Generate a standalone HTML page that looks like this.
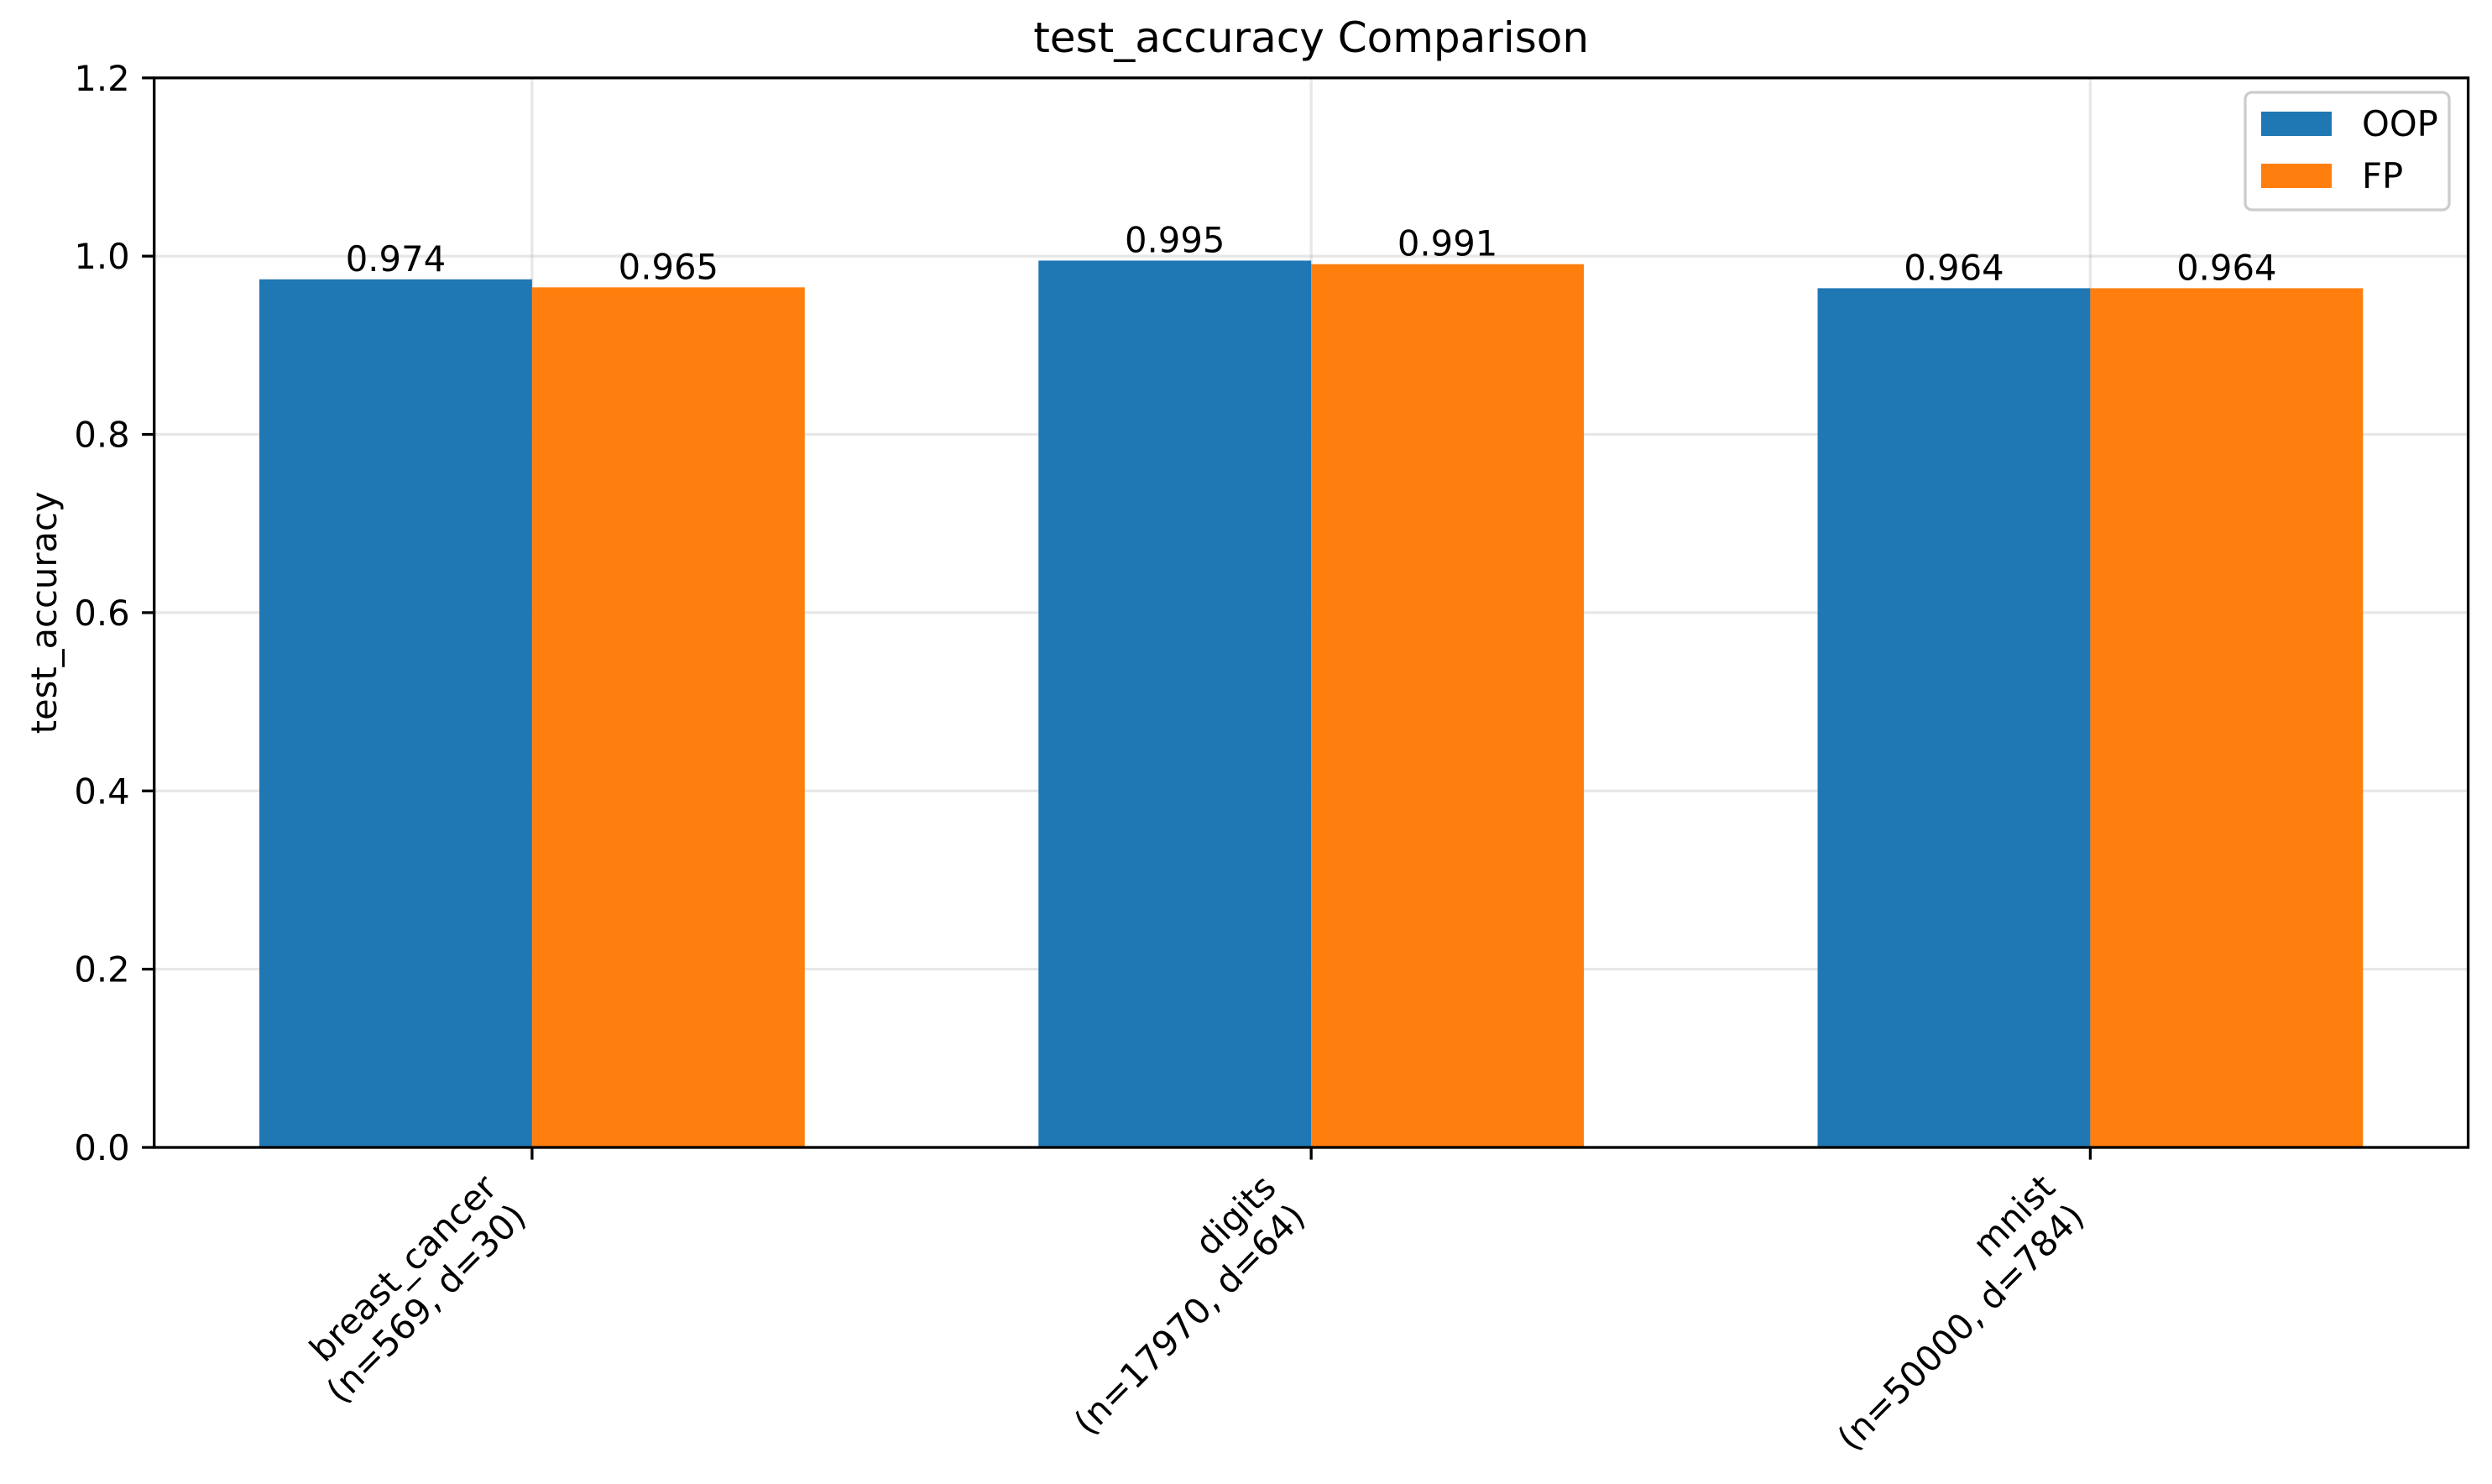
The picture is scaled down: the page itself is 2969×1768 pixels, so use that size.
<!DOCTYPE html>
<html><head><meta charset="utf-8"><style>
html,body{margin:0;padding:0;background:#fff}
svg{display:block;font-family:"DejaVu Sans","Liberation Sans",sans-serif}
</style></head><body>
<svg id="chart" width="2969" height="1768" viewBox="0 0 2969 1768">
<rect x="0" y="0" width="2969" height="1768" fill="#fff"/>
<g id="grid"></g>
<g id="bars"></g>
<g id="axes"></g>
<g id="labels"></g>
</svg>
<script>
const categories = ["breast_cancer", "digits", "mnist"];
const subLabels = ["(n=569, d=30)", "(n=17970, d=64)", "(n=50000, d=784)"];
const oopValues = [0.974, 0.995, 0.964];
const fpValues = [0.965, 0.991, 0.964];
const yTicks = [0.0, 0.2, 0.4, 0.6, 0.8, 1.0, 1.2];
const yTickLabels = ["0.0", "0.2", "0.4", "0.6", "0.8", "1.0", "1.2"];

const L = 183.7, R = 2940.6, T = 92.8, B = 1367;
const yMin = 0, yMax = 1.2;
const xMin = -0.485, xMax = 2.485;
const barW = 0.35;
const FS = 41.7;
const NS = "http://www.w3.org/2000/svg";
function xs(v){ return L + (v - xMin) / (xMax - xMin) * (R - L); }
function ys(v){ return B - (v - yMin) / (yMax - yMin) * (B - T); }
function mk(tag, attrs, parent){
  const e = document.createElementNS(NS, tag);
  for (const k in attrs) e.setAttribute(k, attrs[k]);
  parent.appendChild(e);
  return e;
}
const grid = document.getElementById('grid');
const bars = document.getElementById('bars');
const axes = document.getElementById('axes');
const labels = document.getElementById('labels');

yTicks.forEach((t) => {
  const g = mk('line', {x1:L, x2:R, y1:ys(t), y2:ys(t), stroke:'#b0b0b0', 'stroke-opacity':0.3, 'stroke-width':3.3}, grid);
  
  
});
categories.forEach((c, i) => {
  const g = mk('line', {x1:xs(i), x2:xs(i), y1:T, y2:B, stroke:'#b0b0b0', 'stroke-opacity':0.3, 'stroke-width':3.3}, grid);
  
  
});

function drawSeries(vals, offset, color, name){
  vals.forEach((v, i) => {
    const x0 = xs(i + offset - barW / 2), x1 = xs(i + offset + barW / 2);
    const r = mk('rect', {x:x0, y:ys(v), width:x1 - x0, height:ys(0) - ys(v), fill:color}, bars);
    
    
    const t = mk('text', {x:(x0 + x1) / 2, y:ys(v) - 10, 'font-size':FS, 'text-anchor':'middle', fill:'#000'}, labels);
    t.textContent = v.toFixed(3);
    
    
  });
}
drawSeries(oopValues, -0.175, '#1f77b4', 'oop');
drawSeries(fpValues, 0.175, '#ff7f0e', 'fp');

const frame = mk('rect', {x:L, y:T, width:R - L, height:B - T, fill:'none', stroke:'#000', 'stroke-width':3.3}, axes);



yTicks.forEach((t, i) => {
  const tk = mk('line', {x1:L - 14.6, x2:L, y1:ys(t), y2:ys(t), stroke:'#000', 'stroke-width':3.3}, axes);
  
  
  const lb = mk('text', {x:L - 29, y:ys(t) + 15, 'font-size':FS, 'text-anchor':'end', fill:'#000'}, labels);
  lb.textContent = yTickLabels[i];
  
  
});

categories.forEach((c, i) => {
  const tk = mk('line', {x1:xs(i), x2:xs(i), y1:B, y2:B + 14.6, stroke:'#000', 'stroke-width':3.3}, axes);
  
  
  const g = mk('g', {transform:'translate(' + (xs(i) - 5) + ',' + (B + 85) + ') rotate(-45)'}, labels);
  
  
  const t1 = mk('text', {x:0, y:-49, 'font-size':FS, 'text-anchor':'end', fill:'#000'}, g);
  t1.textContent = c;
  const t2 = mk('text', {x:0, y:0, 'font-size':FS, 'text-anchor':'end', fill:'#000'}, g);
  t2.textContent = subLabels[i];
});

const title = mk('text', {x:(L + R) / 2, y:62, 'font-size':50, 'text-anchor':'middle', fill:'#000'}, labels);
title.textContent = 'test_accuracy Comparison';


const yl = mk('text', {x:0, y:0, 'font-size':FS, 'text-anchor':'middle', fill:'#000', transform:'translate(67,' + ((T + B) / 2) + ') rotate(-90)'}, labels);
yl.textContent = 'test_accuracy';



const lg = mk('g', {}, labels);


mk('rect', {x:2675, y:110, width:243, height:140, rx:8, fill:'#fff', 'fill-opacity':0.8, stroke:'#cccccc', 'stroke-width':3.3}, lg);
const legendItems = [['OOP', '#1f77b4', 133], ['FP', '#ff7f0e', 195]];
legendItems.forEach((it) => {
  const e = mk('g', {}, lg);
  
  
  mk('rect', {x:2694, y:it[2], width:84, height:29, fill:it[1]}, e);
  const t = mk('text', {x:2814, y:it[2] + 29, 'font-size':FS, fill:'#000'}, e);
  t.textContent = it[0];
});
</script>
</body></html>
